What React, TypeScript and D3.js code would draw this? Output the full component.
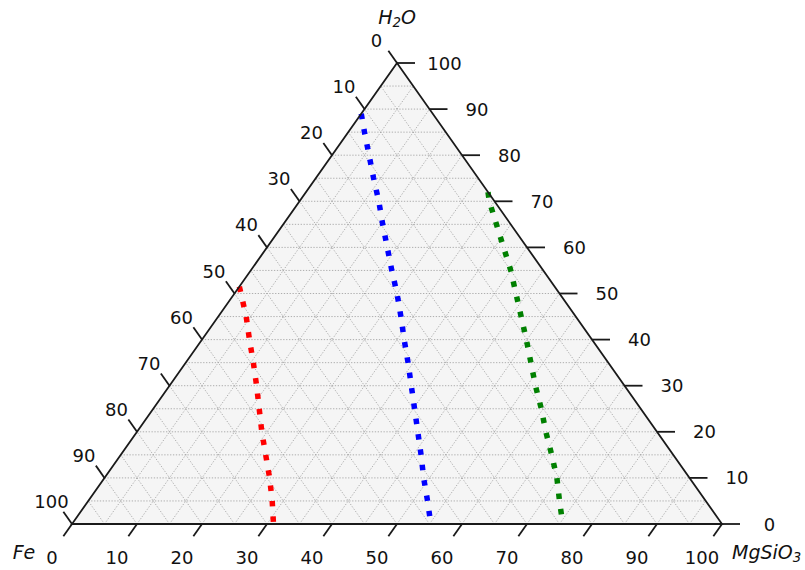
import React from "react";
import * as d3 from "d3";

// Ternary composition paths (percent): H2O content and MgSiO3 content; Fe is the remainder.
const redH2O = [51.5, 45, 40, 35, 30, 25, 20, 15, 10, 5, 0];
const redMgSiO3 = [0, 4.3, 7.3, 10.4, 13.4, 16.3, 19.2, 22.3, 25.4, 28.3, 31.0];

const blueH2O = [89, 85, 80, 75, 70, 65, 60, 55, 50, 45, 40, 35, 30, 25, 20, 15, 10, 5, 0];
const blueMgSiO3 = [0, 2.5, 5.7, 8.9, 12.2, 15.3, 18.5, 21.7, 25.0, 28.1, 31.1, 34.2, 37.2, 40.2, 43.2, 46.2, 49.1, 52.2, 55.2];

const greenH2O = [72, 70, 65, 60, 55, 50, 45, 40, 35, 30, 25, 20, 15, 10, 5, 0];
const greenMgSiO3 = [28, 29.2, 32.8, 36.4, 40.0, 43.3, 46.6, 49.9, 53.1, 56.3, 59.7, 62.9, 66.3, 69.6, 72.5, 75.5];

const seriesColors = ["#ff0000", "#0000ff", "#008000"];

const tickValues = [0, 10, 20, 30, 40, 50, 60, 70, 80, 90, 100];
const gridValues = d3.range(5, 100, 5);

const W = 805;
const H = 570;

// Triangle corners: Fe (bottom-left), MgSiO3 (bottom-right), H2O (apex)
const xM = d3.scaleLinear().domain([0, 100]).range([72, 722]);
const yH = d3.scaleLinear().domain([0, 100]).range([524, 63]);
const xShiftH = d3.scaleLinear().domain([0, 100]).range([0, 325]);

const project = (h: number, m: number): [number, number] => [
  xM(m) + xShiftH(h),
  yH(h),
];

const FONT = "'DejaVu Sans', sans-serif";
const FS = 18;
const TICK = 15;
const edgeColor = "#1a1a1a";
const EW = 1.8;

export default function App() {
  const apex = project(100, 0);
  const left = project(0, 0);
  const right = project(0, 100);

  const line = d3
    .line<[number, number]>()
    .x((d) => project(d[0], d[1])[0])
    .y((d) => project(d[0], d[1])[1]);

  const series = [
    { h: redH2O, m: redMgSiO3 },
    { h: blueH2O, m: blueMgSiO3 },
    { h: greenH2O, m: greenMgSiO3 },
  ];

  // unit directions of the left and right edges
  const lenL = Math.hypot(apex[0] - left[0], apex[1] - left[1]);
  const dirL = [(left[0] - apex[0]) / lenL, (left[1] - apex[1]) / lenL];
  const lenR = Math.hypot(right[0] - apex[0], right[1] - apex[1]);
  const dirR = [(right[0] - apex[0]) / lenR, (right[1] - apex[1]) / lenR];

  const grid: { a: [number, number]; b: [number, number] }[] = [];
  gridValues.forEach((v) => {
    grid.push({ a: project(v, 0), b: project(v, 100 - v) });
    grid.push({ a: project(0, v), b: project(100 - v, v) });
    grid.push({ a: project(0, 100 - v), b: project(100 - v, 0) });
  });

  const tri = [apex, left, right].map((p) => p.join(",")).join(" ");

  return (
    <svg
      width={W}
      height={H}
      style={{ position: "absolute", left: 0, top: 0, background: "#fff" }}
      fontFamily={FONT}
    >
      <polygon points={tri} fill="#f5f5f5" />
      <g stroke="#a6a6a6" strokeWidth={0.9} strokeDasharray="1.3,1.6">
        {grid.map((g, i) => (
          <line key={i} x1={g.a[0]} y1={g.a[1]} x2={g.b[0]} y2={g.b[1]} />
        ))}
      </g>

      {series.map((s, i) => (
        <path
          key={i}
          d={line(s.h.map((h, k) => [h, s.m[k]] as [number, number])) || ""}
          fill="none"
          stroke={seriesColors[i]}
          strokeWidth={5.5}
          strokeDasharray="5.5,10"
        />
      ))}

      <polygon points={tri} fill="none" stroke={edgeColor} strokeWidth={EW} />

      {/* MgSiO3 axis (bottom) */}
      <g>
        {tickValues.map((v) => {
          const [x, y] = project(0, v);
          return (
            <g key={"b" + v}>
              <line
                x1={x}
                y1={y}
                x2={x + dirL[0] * TICK}
                y2={y + dirL[1] * TICK}
                stroke={edgeColor}
                strokeWidth={EW}
              />
              <text
                x={x - 20}
                y={y + 33}
                fontSize={FS}
                textAnchor="middle"
                dominantBaseline="central"
                fill="#111"
              >
                {v}
              </text>
            </g>
          );
        })}
      </g>

      {/* Fe axis (left) */}
      <g>
        {tickValues.map((v) => {
          const [x, y] = project(100 - v, 0);
          return (
            <g key={"l" + v}>
              <line
                x1={x}
                y1={y}
                x2={x - dirR[0] * TICK}
                y2={y - dirR[1] * TICK}
                stroke={edgeColor}
                strokeWidth={EW}
              />
              <text
                x={x - 20.5}
                y={y - 22.5}
                fontSize={FS}
                textAnchor="middle"
                dominantBaseline="central"
                fill="#111"
              >
                {v}
              </text>
            </g>
          );
        })}
      </g>

      {/* H2O axis (right) */}
      <g>
        {tickValues.map((v) => {
          const [x, y] = project(v, 100 - v);
          return (
            <g key={"r" + v}>
              <line
                x1={x}
                y1={y}
                x2={x + 18}
                y2={y}
                stroke={edgeColor}
                strokeWidth={EW}
              />
              <text
                x={x + 47.5}
                y={y}
                fontSize={FS}
                textAnchor="middle"
                dominantBaseline="central"
                fill="#111"
              >
                {v}
              </text>
            </g>
          );
        })}
      </g>

      {/* Corner titles */}
      <text
        x={apex[0]}
        y={17}
        fontSize={19}
        fontStyle="italic"
        textAnchor="middle"
        dominantBaseline="central"
        fill="#111"
      >
        H<tspan fontSize={13.3} dy={5}>2</tspan>
        <tspan dy={-5}>O</tspan>
      </text>
      <text
        x={24}
        y={552}
        fontSize={19}
        fontStyle="italic"
        textAnchor="middle"
        dominantBaseline="central"
        fill="#111"
      >
        Fe
      </text>
      <text
        x={732}
        y={552}
        fontSize={19}
        fontStyle="italic"
        textAnchor="start"
        dominantBaseline="central"
        fill="#111"
      >
        MgSiO<tspan fontSize={13.3} dy={5}>3</tspan>
      </text>
    </svg>
  );
}
